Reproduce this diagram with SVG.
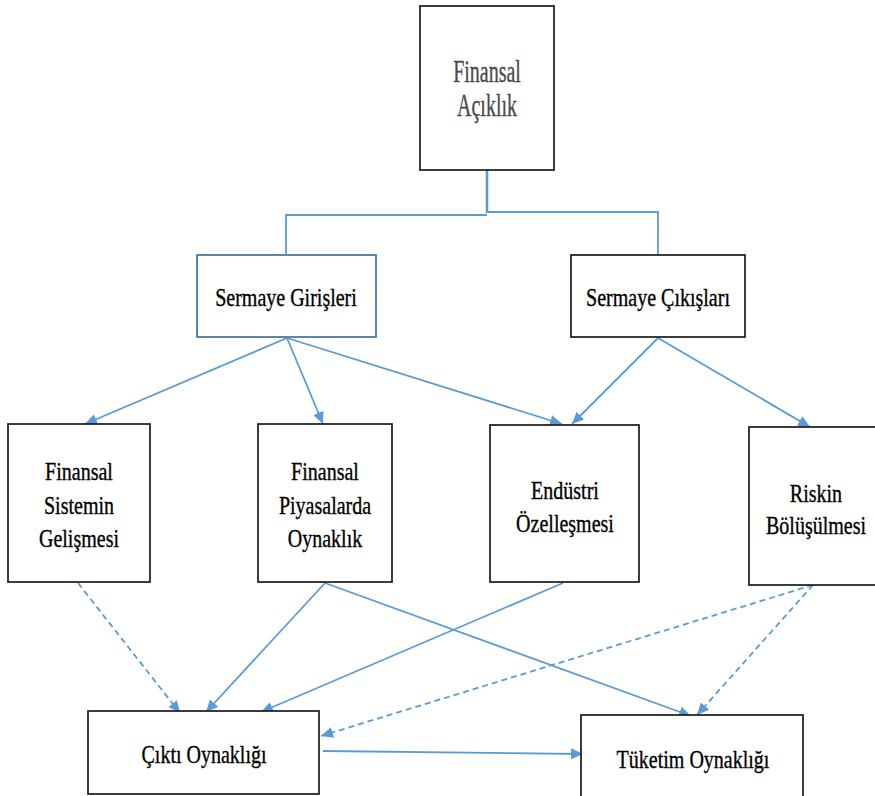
<svg xmlns="http://www.w3.org/2000/svg" width="875" height="796" viewBox="0 0 875 796">
<defs>
<style>
.box{fill:#fff;stroke:#1a1a1a;stroke-width:1.7}
.boxb{fill:#fff;stroke:#41719C;stroke-width:1.7}
.t{font-family:"Liberation Serif","Times New Roman",serif;font-size:26px;fill:#000;stroke:#000;stroke-width:0.35;text-anchor:middle}
.tg{font-family:"Liberation Serif","Times New Roman",serif;font-size:31px;fill:#4a4a4a;stroke:#4a4a4a;stroke-width:0.35;text-anchor:middle}
.c{fill:none;stroke:#5B9BD5;stroke-width:1.8}
.d{stroke-dasharray:6 4}
</style>
<marker id="ah" markerUnits="userSpaceOnUse" markerWidth="13" markerHeight="11" refX="12" refY="5.5" orient="auto">
<path d="M0,0 L12,5.5 L0,11 z" fill="#5B9BD5"/>
</marker>
</defs>
<rect width="875" height="796" fill="#fff"/>

<g id="connectors">
<path d="M487,170 V213" fill="none" stroke="#5B9BD5" stroke-width="2.6"/>
<path class="c" d="M286,254 V215 H487"/>
<path class="c" d="M487,212 H658 V254"/>
<path class="c" d="M287,338 L85,424" marker-end="url(#ah)"/>
<path class="c" d="M287,338 L323,424" marker-end="url(#ah)"/>
<path class="c" d="M287,338 L562,424" marker-end="url(#ah)"/>
<path class="c" d="M658,338 L572,424" marker-end="url(#ah)"/>
<path class="c" d="M658,338 L810,427" marker-end="url(#ah)"/>
<path class="c d" d="M78,583 L180,713" marker-end="url(#ah)"/>
<path class="c" d="M325,583 L206,712" marker-end="url(#ah)"/>
<path class="c" d="M325,583 L691,716" marker-end="url(#ah)"/>
<path class="c" d="M563,583 L261,712" marker-end="url(#ah)"/>
<path class="c d" d="M813,585 L321,736" marker-end="url(#ah)"/>
<path class="c d" d="M813,585 L697,715" marker-end="url(#ah)"/>
<path class="c" d="M323,751 L583,754" marker-end="url(#ah)"/>
</g>

<g id="finansal-aciklik">
<rect class="box" x="420" y="6" width="134" height="164"/>
<text class="tg" transform="translate(487,82) scale(0.645,1)"><tspan x="0">Finansal</tspan><tspan x="0" dy="34">Açıklık</tspan></text>
</g>

<g id="sermaye-girisleri">
<rect class="boxb" x="197" y="255" width="179" height="82"/>
<text class="t" transform="translate(286,306) scale(0.77,1)">Sermaye Girişleri</text>
</g>

<g id="sermaye-cikislari">
<rect class="box" x="571" y="255" width="174" height="82"/>
<text class="t" transform="translate(658,306) scale(0.77,1)">Sermaye Çıkışları</text>
</g>

<g id="finansal-sistemin">
<rect class="box" x="8" y="424" width="142" height="158"/>
<text class="t" transform="translate(79,480) scale(0.77,1)"><tspan x="0">Finansal</tspan><tspan x="0" dy="34">Sistemin</tspan><tspan x="0" dy="33">Gelişmesi</tspan></text>
</g>

<g id="finansal-piyasalarda">
<rect class="box" x="258" y="424" width="134" height="158"/>
<text class="t" transform="translate(325,480) scale(0.77,1)"><tspan x="0">Finansal</tspan><tspan x="0" dy="34">Piyasalarda</tspan><tspan x="0" dy="33">Oynaklık</tspan></text>
</g>

<g id="endustri">
<rect class="box" x="490" y="425" width="149" height="157"/>
<text class="t" transform="translate(565,499) scale(0.77,1)"><tspan x="0">Endüstri</tspan><tspan x="0" dy="33">Özelleşmesi</tspan></text>
</g>

<g id="riskin">
<rect class="box" x="749" y="427" width="134" height="158"/>
<text class="t" transform="translate(816,502) scale(0.77,1)"><tspan x="0">Riskin</tspan><tspan x="0" dy="32">Bölüşülmesi</tspan></text>
</g>

<g id="cikti">
<rect class="box" x="88" y="711" width="231" height="83"/>
<text class="t" transform="translate(204,763) scale(0.77,1)">Çıktı Oynaklığı</text>
</g>

<g id="tuketim">
<rect class="box" x="581" y="715" width="222" height="90"/>
<text class="t" transform="translate(693,768) scale(0.77,1)">Tüketim Oynaklığı</text>
</g>
</svg>
